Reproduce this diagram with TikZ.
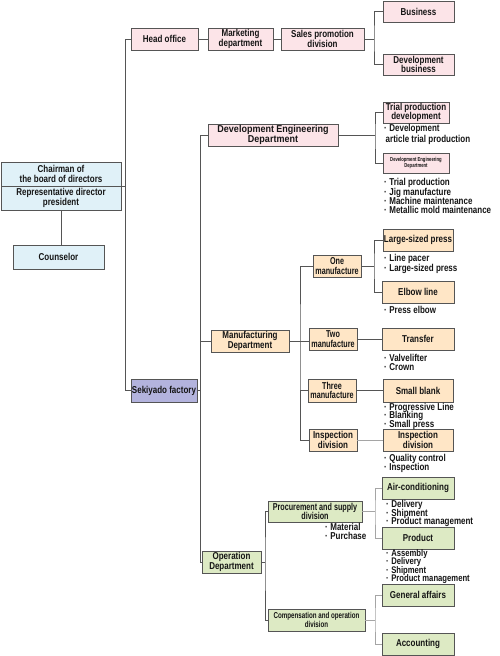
\documentclass[tikz,border=0pt]{standalone}
\usepackage{fontspec}
\setmainfont{Liberation Sans}[FakeStretch=0.8]
\newfontfamily\narrowfont{Liberation Sans}[FakeStretch=0.72]
\newfontfamily\widefont{Liberation Sans}[FakeStretch=0.9]
\usepackage{xcolor}
\definecolor{chart-pink}{HTML}{FCE4E8}
\definecolor{chart-peach}{HTML}{FFE6C6}
\definecolor{chart-green}{HTML}{DDEAC4}
\definecolor{chart-blue}{HTML}{E0F1F8}
\definecolor{chart-lilac}{HTML}{B3B3DD}
\definecolor{chart-line}{HTML}{555555}
\definecolor{chart-faint}{HTML}{A5A5A5}
\definecolor{chart-text}{HTML}{151515}
\usepackage{tikz}
\usetikzlibrary{shadows}

\newcommand{\dotitem}{\textperiodcentered\hspace{2.5pt}}
\newcommand{\sizedfont}[2]{\fontsize{#1}{#2}\selectfont\bfseries\lineskiplimit=-20pt\relax}
\newcommand{\listfont}[1]{\sizedfont{10}{#1}}

\tikzset{
    unit/.style={draw=chart-line, line width=0.6pt, align=center, inner sep=0pt, minimum height=22pt, text=chart-text, font=\listfont{9.8},
        drop shadow={shadow xshift=0.8pt, shadow yshift=-0.8pt, fill=chart-line, opacity=1}},
    pinkunit/.style={unit, fill=chart-pink},
    peachunit/.style={unit, fill=chart-peach},
    greenunit/.style={unit, fill=chart-green},
    blueunit/.style={unit, fill=chart-blue, minimum height=24pt},
    lilacunit/.style={unit, fill=chart-lilac},
    notes/.style={anchor=north west, align=left, inner sep=0pt, text=chart-text, font=\listfont{9}},
    link/.style={draw=chart-line, line width=0.7pt},
    faintlink/.style={draw=chart-faint, line width=0.7pt}
}

\begin{document}
\begin{tikzpicture}[x=1pt, y=-1pt]

    \useasboundingbox[fill=white] (0,0) rectangle (500,656);

    % Top management
    \node[blueunit, minimum width=120pt] (chair1) at (61,174) {Chairman of\\the board of directors};
    \node[blueunit, minimum width=120pt] (chair2) at (61,198) {Representative director\\president};
    \node[blueunit, minimum width=91pt] (counselor) at (58.5,257) {Counselor};

    % Head office
    \node[pinkunit, minimum width=67pt] (head) at (164.5,39) {Head office};
    \node[pinkunit, minimum width=65pt] (mkt) at (240.5,39) {Marketing\\department};
    \node[pinkunit, minimum width=83pt] (sales) at (322.5,39) {Sales promotion\\division};
    \node[pinkunit, minimum width=71pt, minimum height=21pt] (business) at (418.5,11.5) {Business};
    \node[pinkunit, minimum width=71pt, minimum height=21pt] (devbiz) at (418.5,64.5) {Development\\business};

    % Factory
    \node[lilacunit, minimum width=66pt, minimum height=23pt] (sekiyado) at (164,390.5) {Sekiyado factory};

    % Development engineering
    \node[pinkunit, minimum width=130pt, font=\widefont\listfont{9.8}] (deveng) at (273,135) {Development Engineering\\Department};
    \node[pinkunit, minimum width=66pt, minimum height=21pt] (trial) at (416,112.5) {Trial production\\development};
    \node[pinkunit, minimum width=66pt, minimum height=20pt, font=\narrowfont\sizedfont{5.8}{6.2}] (devsmall) at (416,163) {Development Engineering\\Department};
    \node[notes, font=\listfont{11}] (devnote) at (384,124.3) {\dotitem Development\\\hspace{1.5pt}article trial production};
    \node[notes, font=\listfont{9.3}] (devlist) at (384,178.3) {\dotitem Trial production\\\dotitem Jig manufacture\\\dotitem Machine maintenance\\\dotitem Metallic mold maintenance};

    % Manufacturing
    \node[peachunit, minimum width=78pt] (mfg) at (250,341) {Manufacturing\\Department};
    \node[peachunit, minimum width=48pt, font=\narrowfont\listfont{9.8}] (one) at (337,266) {One\\manufacture};
    \node[peachunit, minimum width=48pt, font=\narrowfont\listfont{9.8}] (two) at (333,339) {Two\\manufacture};
    \node[peachunit, minimum width=48pt, minimum height=23pt, font=\narrowfont\listfont{9.8}] (three) at (332,390.5) {Three\\manufacture};
    \node[peachunit, minimum width=48pt] (insp1) at (333,440) {Inspection\\division};
    \node[peachunit, minimum width=70pt] (large) at (418,240) {Large-sized press};
    \node[peachunit, minimum width=72pt] (elbow) at (418,292) {Elbow line};
    \node[peachunit, minimum width=72pt] (transfer) at (418,339) {Transfer};
    \node[peachunit, minimum width=70pt, minimum height=23pt] (small) at (418,390.5) {Small blank};
    \node[peachunit, minimum width=70pt] (insp2) at (418,440) {Inspection\\division};
    \node[notes, font=\listfont{9.8}] (largelist) at (384,254.3) {\dotitem Line pacer\\\dotitem Large-sized press};
    \node[notes] (elbowlist) at (384,306.3) {\dotitem Press elbow};
    \node[notes] (transferlist) at (384,354.3) {\dotitem Valvelifter\\\dotitem Crown};
    \node[notes, font=\listfont{8.5}] (smalllist) at (384,403) {\dotitem Progressive Line\\\dotitem Blanking\\\dotitem Small press};
    \node[notes] (insplist) at (384,454.3) {\dotitem Quality control\\\dotitem Inspection};

    % Operation
    \node[greenunit, minimum width=59pt] (op) at (231.5,562) {Operation\\Department};
    \node[greenunit, minimum width=94pt, minimum height=21pt, font=\narrowfont\listfont{9.8}] (proc) at (315,511.5) {Procurement and supply\\division};
    \node[greenunit, minimum width=97pt, font=\narrowfont\sizedfont{8.6}{9.2}] (comp) at (316.5,620) {Compensation and operation\\division};
    \node[greenunit, minimum width=72pt] (air) at (418,488) {Air-conditioning};
    \node[greenunit, minimum width=72pt] (product) at (418,538) {Product};
    \node[greenunit, minimum width=72pt] (general) at (418,595) {General affairs};
    \node[greenunit, minimum width=72pt] (accounting) at (418,644) {Accounting};
    \node[notes] (proclist) at (325,523.3) {\dotitem Material\\\dotitem Purchase};
    \node[notes, font=\listfont{8.5}] (airlist) at (386,500.3) {\dotitem Delivery\\\dotitem Shipment\\\dotitem Product management};
    \node[notes, font=\sizedfont{9.6}{8.5}] (prodlist) at (386,549.3) {\dotitem Assembly\\\dotitem Delivery\\\dotitem Shipment\\\dotitem Product management};

    % Bus points
    \coordinate (headbus) at (125,39);
    \coordinate (plantbus) at (200,135);
    \coordinate (salesbus) at (374,39);
    \coordinate (engbus) at (375,135);
    \coordinate (mfgbus) at (300,341);
    \coordinate (onebus) at (374,266);
    \coordinate (opbus) at (265,562);
    \coordinate (procbus) at (375,511.5);
    \coordinate (compbus) at (375,620);

    % Connectors
    \draw[link] (head.west) -- (headbus) |- (sekiyado.west);
    \draw[link] (chair1.south east) -- (chair1.south east -| headbus);
    \draw[link] (chair2.south) -- (chair2.south |- counselor.north);
    \draw[link] (head) -- (mkt);
    \draw[link] (mkt) -- (sales);
    \draw[link] (sales.east) -- (salesbus);
    \draw[link] (business.west) -| (salesbus) |- (devbiz.west);
    \draw[link] (deveng.west) -- (plantbus) |- (op.west);
    \draw[link] (sekiyado.east) -- (sekiyado.east -| plantbus);
    \draw[link] (mfg.west) -- (mfg.west -| plantbus);
    \draw[link] (deveng.east) -- (engbus);
    \draw[link] (trial.west) -| (engbus) |- (devsmall.west);
    \draw[link] (mfg.east) -- (mfg.east -| two.west);
    \draw[link] (one.west) -| (mfgbus) |- (insp1.west);
    \draw[link] (three.west) -- (three.west -| mfgbus);
    \draw[link] (one.east) -- (onebus);
    \draw[link] (large.west) -| (onebus) |- (elbow.west);
    \draw[link] (two.east) -- (transfer.west);
    \draw[link] (three) -- (small);
    \draw[faintlink] (insp1) -- (insp2);
    \draw[link] (op.east) -- (opbus);
    \draw[link] (proc.west) -| (opbus) |- (comp.west);
    \draw[faintlink] (proc.east) -- (procbus);
    \draw[faintlink] (air.west) -| (procbus) |- (product.west);
    \draw[faintlink] (comp.east) -- (compbus);
    \draw[faintlink] (general.west) -| (compbus) |- (accounting.west);

\end{tikzpicture}
\end{document}
